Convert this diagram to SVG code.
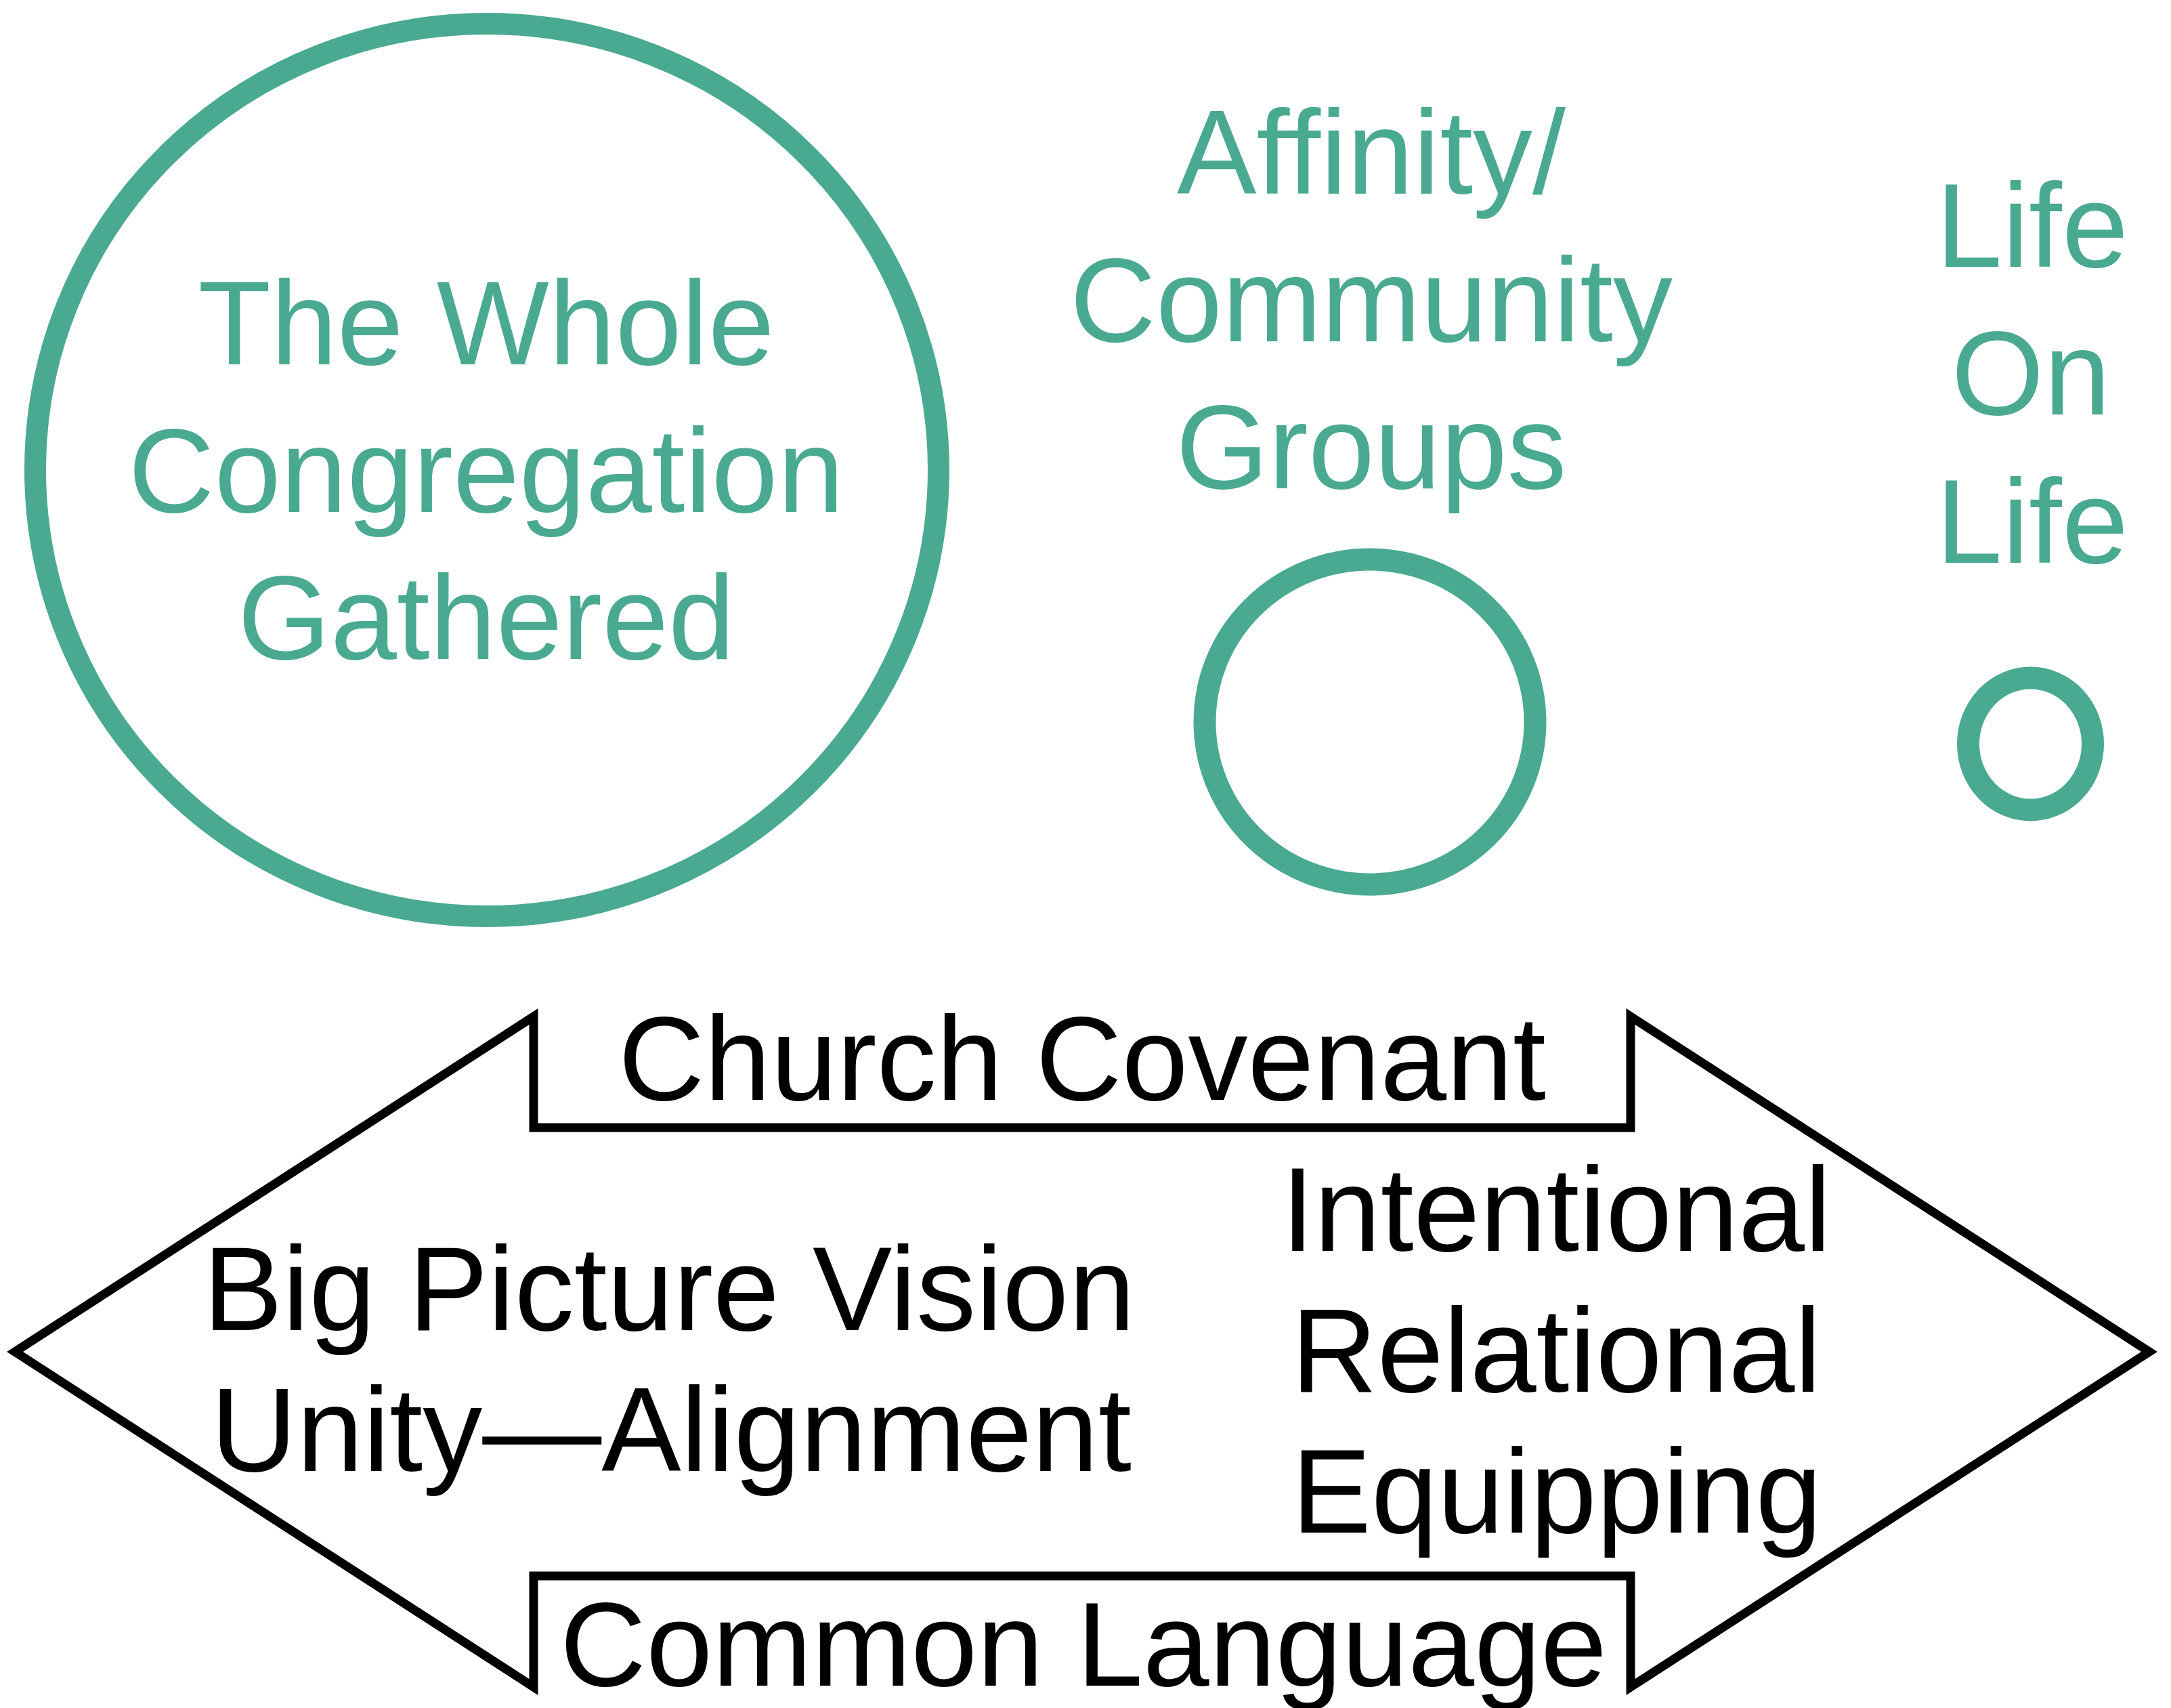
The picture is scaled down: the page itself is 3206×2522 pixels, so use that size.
<svg xmlns="http://www.w3.org/2000/svg" width="3206" height="2522" viewBox="0 0 3206 2522">
<style>
.ring{fill:none;stroke:#4aaa91;stroke-width:33}
.tl{font-family:"Liberation Sans",Arial,Helvetica,sans-serif;font-size:176px;fill:#4aaa91;text-anchor:middle}
.bl{font-family:"Liberation Sans",Arial,Helvetica,sans-serif;font-size:176px;fill:#000;text-anchor:middle}
.frame{fill:none;stroke:#000;stroke-width:13;stroke-linejoin:miter;stroke-miterlimit:10}
</style>
<rect width="3206" height="2522" fill="#fff"/>
<g id="whole-congregation">
<ellipse class="ring" cx="719" cy="694" rx="667" ry="659" style="stroke-width:32"/>
<text class="tl" x="718" y="538">The Whole</text>
<text class="tl" x="718" y="756">Congregation</text>
<text class="tl" x="718" y="973">Gathered</text>
</g>
<g id="community-groups">
<text class="tl" x="2025" y="286">Affinity/</text>
<text class="tl" x="2025" y="504">Community</text>
<text class="tl" x="2025" y="721">Groups</text>
<ellipse class="ring" cx="2023" cy="1066" rx="244" ry="240"/>
</g>
<g id="life-on-life">
<text class="tl" x="3001" y="394">Life</text>
<text class="tl" x="2999" y="612">On</text>
<text class="tl" x="3001" y="831">Life</text>
<ellipse class="ring" cx="2998.5" cy="1098.5" rx="92" ry="97.5"/>
</g>
<g id="connectors"/>
<g id="double-arrow">
<path class="frame" d="M22,1996 L788,1501 L788,1665 L2408,1665 L2408,1501 L3174,1996 L2408,2491 L2408,2327 L788,2327 L788,2491 Z"/>
<text class="bl" x="1598" y="1624">Church Covenant</text>
<text class="bl" x="988" y="1964">Big Picture Vision</text>
<text class="bl" x="991" y="2172">Unity—Alignment</text>
<text class="bl" x="2298" y="1847">Intentional</text>
<text class="bl" x="2298" y="2055">Relational</text>
<text class="bl" x="2299" y="2263">Equipping</text>
<text class="bl" x="1600" y="2489">Common Language</text>
</g>
</svg>
